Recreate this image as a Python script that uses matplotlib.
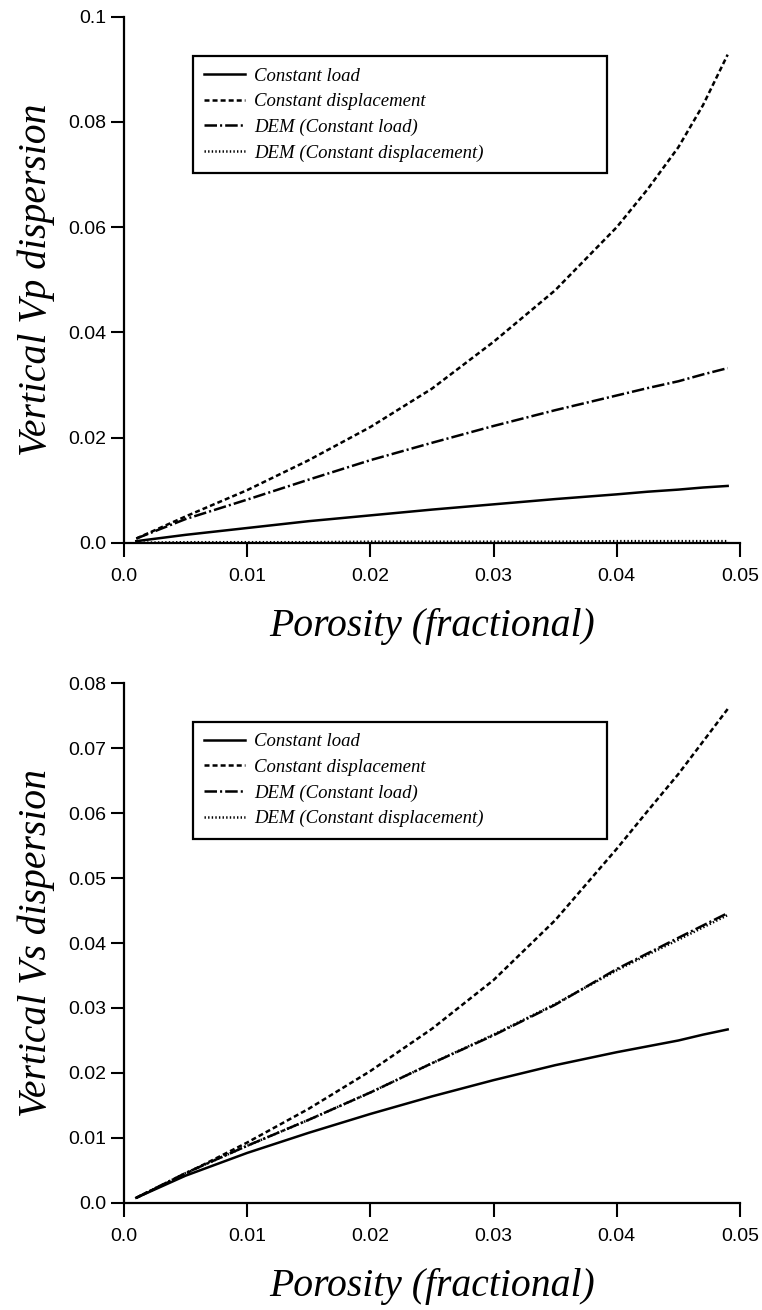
import matplotlib
matplotlib.use("Agg")
import matplotlib.pyplot as plt

plt.rcParams["lines.scale_dashes"] = False

porosity = [0.001, 0.005, 0.01, 0.015, 0.02, 0.025, 0.03, 0.035, 0.04, 0.0425, 0.045, 0.047, 0.049]

# Vp dispersion (top panel)
vp_load = [0.0003, 0.0015, 0.0028, 0.0041, 0.0052, 0.0063, 0.0073, 0.0083, 0.0092, 0.0097, 0.0101, 0.0105, 0.0108]
vp_disp = [0.0008, 0.0050, 0.0100, 0.0157, 0.0220, 0.0293, 0.0382, 0.0480, 0.0600, 0.0672, 0.0752, 0.0832, 0.0928]
vp_dem_load = [0.0008, 0.0045, 0.0082, 0.0120, 0.0157, 0.0190, 0.0222, 0.0252, 0.0280, 0.0294, 0.0307, 0.0320, 0.0332]
vp_dem_disp = [0.0000, 0.0001, 0.0001, 0.0001, 0.0002, 0.0002, 0.0002, 0.0002, 0.0003, 0.0003, 0.0003, 0.0003, 0.0003]

# Vs dispersion (bottom panel)
vs_load = [0.0008, 0.0042, 0.0077, 0.0108, 0.0137, 0.0164, 0.0189, 0.0212, 0.0232, 0.0241, 0.0250, 0.0259, 0.0267]
vs_disp = [0.0008, 0.0045, 0.0093, 0.0145, 0.0203, 0.0268, 0.0343, 0.0435, 0.0545, 0.0603, 0.0660, 0.0710, 0.0760]
vs_dem_load = [0.0008, 0.0046, 0.0088, 0.0128, 0.0170, 0.0215, 0.0258, 0.0305, 0.0360, 0.0384, 0.0408, 0.0427, 0.0446]
vs_dem_disp = [0.0008, 0.0046, 0.0088, 0.0128, 0.0170, 0.0215, 0.0259, 0.0306, 0.0358, 0.0382, 0.0405, 0.0424, 0.0443]

labels = ["Constant load", "Constant displacement",
          "DEM (Constant load)", "DEM (Constant displacement)"]

x_ticks = [0.0, 0.01, 0.02, 0.03, 0.04, 0.05]
x_ticklabels = ["0.0", "0.01", "0.02", "0.03", "0.04", "0.05"]
vp_ticks = [0.0, 0.02, 0.04, 0.06, 0.08, 0.1]
vp_ticklabels = ["0.0", "0.02", "0.04", "0.06", "0.08", "0.1"]
vs_ticks = [0.0, 0.01, 0.02, 0.03, 0.04, 0.05, 0.06, 0.07, 0.08]
vs_ticklabels = ["0.0", "0.01", "0.02", "0.03", "0.04", "0.05", "0.06", "0.07", "0.08"]

styles = ["-", (0, (3.6, 2.2)), (0, (9, 2.2, 1.5, 2.2)), (0, (1.0, 1.6))]

serif = ["Liberation Serif", "DejaVu Serif"]
sans = ["Liberation Sans", "DejaVu Sans"]

fig = plt.figure(figsize=(7.62, 13.1), dpi=100)
ax1 = fig.add_axes([0.1627, 0.5857, 0.8084, 0.4015])
ax2 = fig.add_axes([0.1627, 0.0817, 0.8084, 0.3969])


def draw(ax, series, yticks, yticklabels, ylabel):
    for ys, ls, lab in zip(series, styles, labels):
        ax.plot(porosity, ys, color="black", lw=1.8, linestyle=ls, label=lab)
    ax.set_xlim(0, 0.05)
    ax.set_ylim(yticks[0], yticks[-1])
    ax.set_xticks(x_ticks)
    ax.set_xticklabels(x_ticklabels, fontfamily=sans, fontsize=14)
    ax.set_yticks(yticks)
    ax.set_yticklabels(yticklabels, fontfamily=sans, fontsize=14)
    ax.tick_params(axis="x", direction="out", length=10, width=1.5, pad=8)
    ax.tick_params(axis="y", direction="out", length=9.5, width=1.5, pad=3.5)
    for s in ["top", "right"]:
        ax.spines[s].set_visible(False)
    for s in ["left", "bottom"]:
        ax.spines[s].set_linewidth(1.6)
    ax.set_xlabel("Porosity (fractional)", fontfamily=serif, fontstyle="italic", fontsize=28.5)
    ax.xaxis.set_label_coords(0.5, -0.125)
    ax.xaxis.label.set_va("top")
    ax.set_ylabel(ylabel, fontfamily=serif, fontstyle="italic", fontsize=28.5)
    ax.yaxis.set_label_coords(-0.112, 0.5)
    leg = ax.legend(loc="upper left", bbox_to_anchor=(0.112, 0.705, 0.672, 0.22),
                    mode="expand", borderaxespad=0, fancybox=False,
                    edgecolor="black", framealpha=1, handlelength=2.2,
                    handletextpad=0.45, labelspacing=0.45, borderpad=0.6,
                    prop={"family": serif, "style": "italic", "size": 13.5})
    leg.get_frame().set_linewidth(1.6)


draw(ax1, [vp_load, vp_disp, vp_dem_load, vp_dem_disp], vp_ticks, vp_ticklabels,
     "Vertical Vp dispersion")
draw(ax2, [vs_load, vs_disp, vs_dem_load, vs_dem_disp], vs_ticks, vs_ticklabels,
     "Vertical Vs dispersion")

fig.savefig("out.png", dpi=100)
